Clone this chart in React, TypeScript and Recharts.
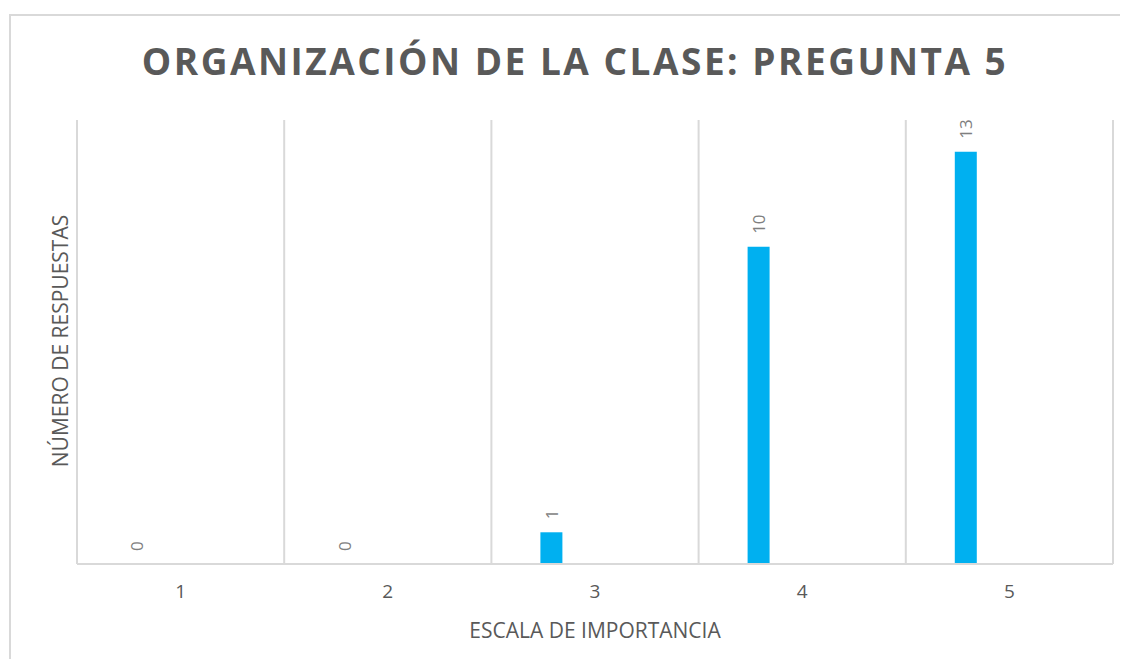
import React from "react";
import { BarChart, Bar, XAxis, YAxis, CartesianGrid, LabelList } from "recharts";

const categories = ["1", "2", "3", "4", "5"];
const respuestas = [0, 0, 1, 10, 13];
const yDomain = [0, 14];

const data = categories.map((c, i) => ({
  escala: c,
  respuestas: respuestas[i],
  s2: null,
  s3: null,
  s4: null,
  s5: null,
}));

const FONT = "'Open Sans', 'Segoe UI', sans-serif";

const RotatedLabel = (props: any) => {
  const { x, y, width, value } = props;
  const cx = Number(x) + Number(width) / 2;
  const ty = Number(y) - 13;
  return (
    <text
      x={cx}
      y={ty}
      transform={`rotate(-90, ${cx}, ${ty})`}
      textAnchor="start"
      dominantBaseline="central"
      fill="#7f7f7f"
      fontSize={17}
      fontFamily={FONT}
    >
      {String(value)}
    </text>
  );
};

export default function App() {
  const gridX = ({ offset }: any) => {
    const step = offset.width / categories.length;
    return Array.from({ length: categories.length + 1 }, (_, i) => offset.left + i * step);
  };

  return (
    <div style={{ position: "relative", margin: -8, width: 1128, height: 667, background: "#fff", overflow: "hidden", fontFamily: FONT }}>
      <div style={{ position: "absolute", left: 9, top: 14, width: 1140, height: 680, border: "2px solid #d9d9d9", boxSizing: "border-box" }} />
      <div style={{ position: "absolute", left: 0, top: 35, width: 1150, textAlign: "center", fontSize: 37, fontWeight: 700, color: "#595959", letterSpacing: 2.5 }}>
        ORGANIZACIÓN DE LA CLASE: PREGUNTA 5
      </div>
      <div style={{ position: "absolute", left: 0, top: 0 }}>
        <BarChart
          width={1128}
          height={667}
          data={data}
          margin={{ top: 120, right: 15, left: 77, bottom: 43 }}
          barSize={22}
          barGap={0}
        >
          <CartesianGrid horizontal={false} stroke="#d9d9d9" strokeWidth={2} verticalCoordinatesGenerator={gridX} />
          <XAxis
            dataKey="escala"
            height={60}
            axisLine={{ stroke: "#d9d9d9", strokeWidth: 2 }}
            tickLine={false}
            tick={{ fontSize: 19, fill: "#595959", fontFamily: FONT }}
            tickMargin={15}
          />
          <YAxis domain={yDomain} hide />
          <Bar
            dataKey="respuestas"
            fill="#00b0f0"
            isAnimationActive={false}
            minPointSize={(v: any) => (v === 0 ? 0.01 : 0)}
          >
            <LabelList dataKey="respuestas" content={RotatedLabel} />
          </Bar>
          <Bar dataKey="s2" fill="#00b0f0" isAnimationActive={false} />
          <Bar dataKey="s3" fill="#00b0f0" isAnimationActive={false} />
          <Bar dataKey="s4" fill="#00b0f0" isAnimationActive={false} />
          <Bar dataKey="s5" fill="#00b0f0" isAnimationActive={false} />
        </BarChart>
      </div>
      <div
        style={{
          position: "absolute",
          left: 0,
          top: 616,
          width: 1190,
          textAlign: "center",
          whiteSpace: "nowrap",
          fontSize: 21,
          color: "#595959",
        }}
      >
        ESCALA DE IMPORTANCIA
      </div>
      <div
        style={{
          position: "absolute",
          left: 60,
          top: 341,
          transform: "translate(-50%, -50%) rotate(-90deg)",
          whiteSpace: "nowrap",
          fontSize: 21,
          color: "#595959",
        }}
      >
        NÚMERO DE RESPUESTAS
      </div>
    </div>
  );
}
